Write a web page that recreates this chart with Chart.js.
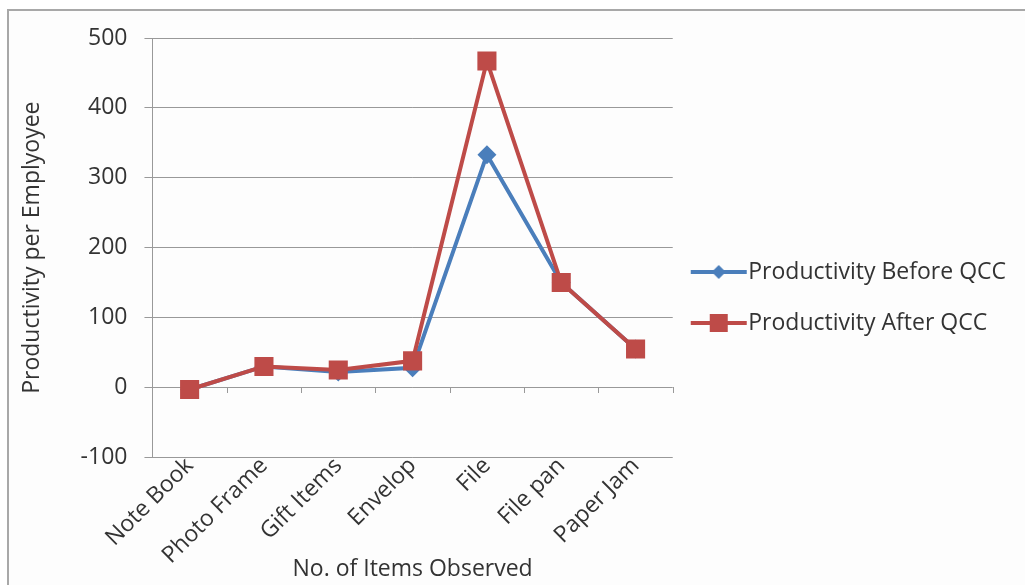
<!DOCTYPE html>
<html>
<head>
<meta charset="utf-8">
<script src="https://cdn.jsdelivr.net/npm/chart.js@4.4.1/dist/chart.umd.min.js"></script>
<style>
  html, body { margin: 0; padding: 0; background: #ffffff; }
  #frame {
    position: absolute; left: 7px; top: 9px;
    width: 1018px; height: 576px;
    border-left: 2px solid #a8a8a8; border-top: 2px solid #a8a8a8;
    background: #fdfdfd;
  }
  #wrap { position: absolute; left: 0; top: 0; width: 1016px; height: 576px; }
</style>
</head>
<body>
<div id="frame"><div id="wrap"><canvas id="myChart"></canvas></div></div>
<script>
var categories = ['Note Book', 'Photo Frame', 'Gift Items', 'Envelop', 'File', 'File pan', 'Paper Jam'];
var beforeQCC = [-3, 30, 22, 28, 333, 150, 55];
var afterQCC = [-3, 30, 25, 38, 467, 150, 55];
var yTicks = [-100, 0, 100, 200, 300, 400, 500];

var blue = '#4a7ebb';
var red = '#be4b48';
var textColor = '#333333';
var gridColor = '#999999';
var fontName = '"Open Sans", sans-serif';

// little line+marker pictures for the legend
function legendIcon(color, shape) {
	var c = document.createElement('canvas');
	c.width = 58;
	c.height = 20;
	var g = c.getContext('2d');
	g.strokeStyle = color;
	g.lineWidth = 4;
	g.beginPath();
	g.moveTo(1, 10);
	g.lineTo(57, 10);
	g.stroke();
	g.fillStyle = color;
	if (shape == 'rect') {
		g.fillRect(20, 1, 18, 18);
	} else {
		g.beginPath();
		g.moveTo(29, 3);
		g.lineTo(36, 10);
		g.lineTo(29, 17);
		g.lineTo(22, 10);
		g.closePath();
		g.fill();
	}
	return c;
}

// small tick marks on the zero line between categories
var zeroTicks = {
	id: 'zeroTicks',
	afterDatasetsDraw: function(chart) {
		var x = chart.scales.x;
		var y = chart.scales.y;
		var y0 = Math.round(y.getPixelForValue(0));
		var ctx = chart.ctx;
		ctx.save();
		ctx.strokeStyle = gridColor;
		ctx.lineWidth = 1;
		ctx.beginPath();
		for (var i = 0; i <= categories.length; i++) {
			var px = Math.round(x.getPixelForValue(i - 0.5)) + 0.5;
			ctx.moveTo(px, y0);
			ctx.lineTo(px, y0 + 6);
		}
		ctx.stroke();
		ctx.restore();
	}
};

var ctx = document.getElementById('myChart').getContext('2d');
var chart = new Chart(ctx, {
	type: 'line',
	data: {
		labels: categories,
		datasets: [{
			label: 'Productivity Before QCC',
			data: beforeQCC,
			order: 1, // drawn under the red series
			borderColor: blue,
			backgroundColor: blue,
			borderWidth: 4,
			pointStyle: 'rectRot',
			pointRadius: 9.5,
			pointBorderWidth: 0,
			tension: 0
		}, {
			label: 'Productivity After QCC',
			data: afterQCC,
			order: 0,
			borderColor: red,
			backgroundColor: red,
			borderWidth: 4,
			pointStyle: 'rect',
			pointRadius: 13.5,
			pointBorderWidth: 0,
			tension: 0
		}]
	},
	plugins: [zeroTicks],
	options: {
		responsive: true,
		maintainAspectRatio: false,
		animation: false,
		layout: { padding: { left: 10, right: 9, top: 17, bottom: 20 } },
		plugins: {
			tooltip: { enabled: false },
			legend: {
				position: 'right',
				maxWidth: 352,
				labels: {
					usePointStyle: true,
					pointStyleWidth: 36,
					padding: 28,
					color: textColor,
					font: { family: fontName, size: 23 },
					generateLabels: function(ch) {
						return [
							{ text: 'Productivity Before QCC', pointStyle: legendIcon(blue, 'diamond'), datasetIndex: 0, fontColor: textColor, lineWidth: 0 },
							{ text: 'Productivity After QCC', pointStyle: legendIcon(red, 'rect'), datasetIndex: 1, fontColor: textColor, lineWidth: 0 }
						];
					}
				}
			}
		},
		scales: {
			x: {
				offset: true,
				grid: { display: false },
				border: { display: false },
				ticks: {
					minRotation: 45,
					maxRotation: 45,
					padding: -13,
					color: textColor,
					font: { family: fontName, size: 23 }
				},
				title: {
					display: true,
					text: 'No. of Items Observed',
					color: textColor,
					padding: { top: -1, bottom: -16 },
					font: { family: fontName, size: 23 }
				}
			},
			y: {
				min: -100,
				max: 500,
				afterBuildTicks: function(axis) {
					axis.ticks = yTicks.map(function(v) { return { value: v }; });
				},
				afterFit: function(axis) {
					// fixed room above the 500 line, none below -100
					axis.paddingTop = 27;
					axis.paddingBottom = 0;
				},
				grid: { color: gridColor, tickLength: 8 },
				border: { color: gridColor },
				ticks: {
					padding: 17,
					color: textColor,
					font: { family: fontName, size: 23 }
				},
				title: {
					display: true,
					text: 'Productivity per Emplyoyee',
					color: textColor,
					padding: { top: 0, bottom: 17 },
					font: { family: fontName, size: 23 }
				}
			}
		}
	}
});
</script>
</body>
</html>
